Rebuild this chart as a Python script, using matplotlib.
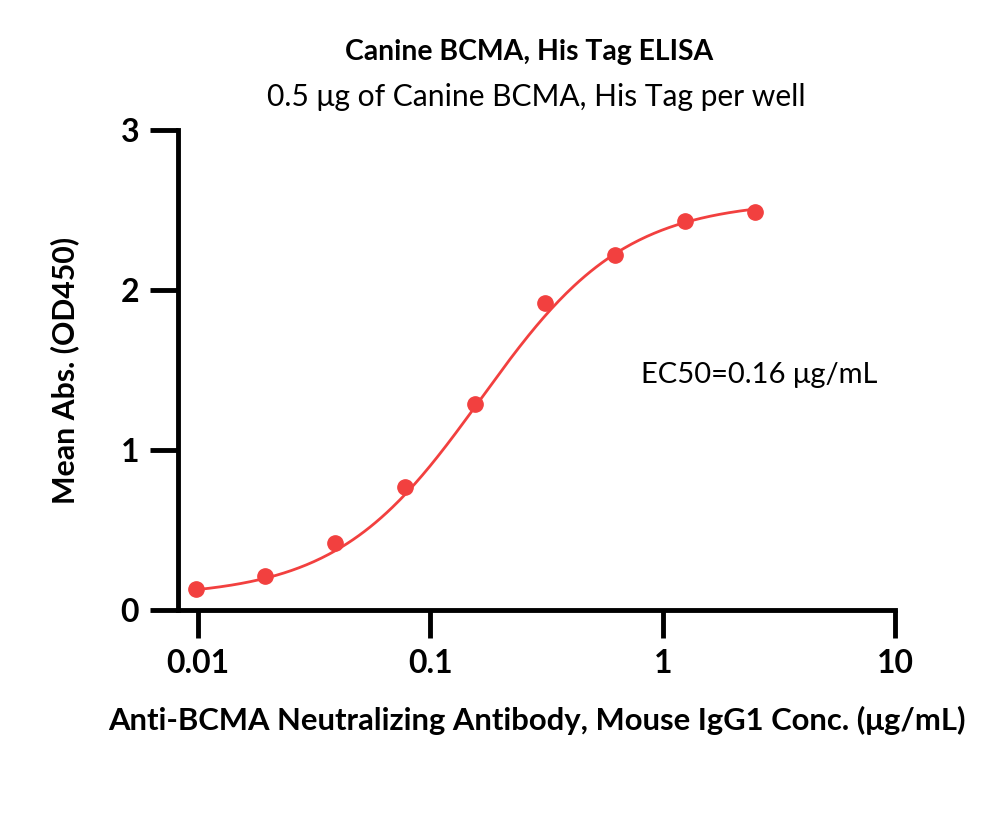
import numpy as np
import matplotlib
matplotlib.use("Agg")
import matplotlib.pyplot as plt

plt.rcParams['font.family'] = ['Lato', 'DejaVu Sans']

conc = [0.0098, 0.0195, 0.039, 0.078, 0.156, 0.3125, 0.625, 1.25, 2.5]
od450 = [0.13, 0.21, 0.42, 0.77, 1.29, 1.92, 2.22, 2.43, 2.49]

# 4PL fit parameters
fit_bottom = 0.08
fit_top = 2.56
fit_ec50 = 0.165
fit_hill = 1.40

xticks = [0.01, 0.1, 1, 10]
xticklabels = ["0.01", "0.1", "1", "10"]
yticks = [0, 1, 2, 3]

red = "#f2403f"

fig = plt.figure(figsize=(10, 8.14), dpi=100)
ax = fig.add_axes([0.178, 1 - 610/814, 0.895 - 0.178, (610 - 130)/814])

xs = np.logspace(np.log10(conc[0]), np.log10(conc[-1]), 300)
ys = fit_bottom + (fit_top - fit_bottom) / (1 + (fit_ec50 / xs) ** fit_hill)
ax.plot(xs, ys, color=red, lw=2, zorder=2)
ax.plot(conc, od450, 'o', color=red, ms=11, zorder=3)

ax.set_xscale('log')
ax.set_xlim(0.0082, 10)
ax.set_ylim(0, 3)
ax.set_xticks(xticks)
ax.set_xticklabels(xticklabels)
ax.set_yticks(yticks)
ax.xaxis.set_minor_locator(matplotlib.ticker.NullLocator())

for s in ['top', 'right']:
    ax.spines[s].set_visible(False)
for s in ['left', 'bottom']:
    ax.spines[s].set_linewidth(3.5)
ax.tick_params(width=3.5, length=20, labelsize=23, pad=8)
for lab in ax.get_xticklabels() + ax.get_yticklabels():
    lab.set_fontweight('bold')

ax.set_xlabel("Anti-BCMA Neutralizing Antibody, Mouse IgG1 Conc. (μg/mL)",
              fontsize=22.3, fontweight='bold', labelpad=20)
ax.set_ylabel("Mean Abs. (OD450)", fontsize=21.8, fontweight='bold', labelpad=30)

fig.text(0.529, 1 - 52/814, "Canine BCMA, His Tag ELISA", ha='center', va='center',
         fontsize=20.4, fontweight='bold')
fig.text(0.536, 1 - 97/814, "0.5 μg of Canine BCMA, His Tag per well", ha='center', va='center',
         fontsize=21.6)
ax.text(2.6, 1.47, "EC50=0.16 μg/mL", fontsize=21, ha='center', va='center')

fig.savefig("out.png", dpi=100)
